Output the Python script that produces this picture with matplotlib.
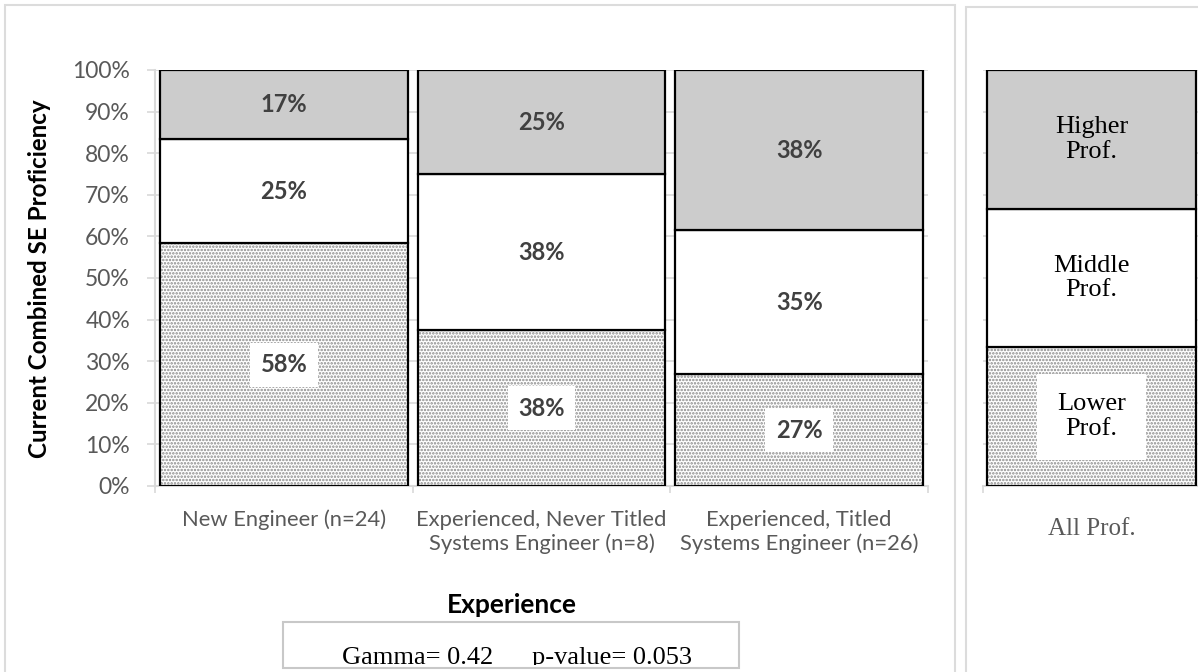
import matplotlib
matplotlib.use("Agg")
import matplotlib.pyplot as plt
import numpy as np
from matplotlib.patches import Rectangle
from matplotlib.transforms import Bbox

# Current combined SE proficiency by experience group (percent of group)
groups = ["New Engineer (n=24)",
          "Experienced, Never Titled\nSystems Engineer (n=8)",
          "Experienced, Titled\nSystems Engineer (n=26)"]
lower = [58.3, 37.5, 26.9]
middle = [25.0, 37.5, 34.6]
higher = [16.7, 25.0, 38.5]

# key bar on the right
key_group = ["All Prof."]
key_shares = [33.3, 33.3, 33.4]
key_names = ["Lower\nProf.", "Middle\nProf.", "Higher\nProf."]

gamma = 0.42
p_value = 0.053

W, H = 1198, 672
SANS = "Lato"
SERIF = "Liberation Serif"
GRID = "#d9d9d9"
DOTS = "#8a8a8a"
plt.rcParams["hatch.linewidth"] = 1.2


def box(x0, y0, x1, y1):
    # pixel box (top-left origin) -> figure fraction rect
    return [x0 / W, 1 - y1 / H, (x1 - x0) / W, (y1 - y0) / H]


def stacked(ax, pos, segs, width):
    bottom = np.zeros(len(pos))
    fills = ["white", "white", "#cccccc"]
    for k, vals in enumerate(segs):
        vals = np.asarray(vals, dtype=float)
        if k == 0:
            # dotted fill first, outline drawn on top
            ax.bar(pos, vals, width, bottom=bottom, color="white",
                   edgecolor=DOTS, linewidth=0, hatch=".....", zorder=2)
            ax.bar(pos, vals, width, bottom=bottom, fill=False,
                   edgecolor="black", linewidth=1.6, zorder=3)
        else:
            ax.bar(pos, vals, width, bottom=bottom, color=fills[k],
                   edgecolor="black", linewidth=1.6, zorder=3)
        bottom += vals


def style_axes(ax, n, pad):
    ax.set_xlim(-0.5, n - 0.5)
    ax.set_ylim(0, 100)
    ax.set_yticks(np.arange(0, 101, 10))
    ax.grid(axis="y", color=GRID, linewidth=1.2, zorder=0)
    for side in ["top", "right"]:
        ax.spines[side].set_visible(False)
    for side in ["left", "bottom"]:
        ax.spines[side].set_color(GRID)
        ax.spines[side].set_linewidth(1.5)
    ax.set_xticks(np.arange(-0.5, n, 1.0), minor=True)
    ax.tick_params(axis="x", which="major", length=0, pad=pad)
    ax.tick_params(axis="x", which="minor", length=5, width=1.2, color=GRID)


fig = plt.figure(figsize=(W / 100, H / 100), dpi=100)

# panel frames
fig.add_artist(Rectangle((5 / W, -0.1), 950 / W, 1 - 5 / H + 0.1,
                         transform=fig.transFigure, fill=False,
                         edgecolor="#dcdcdc", linewidth=1.5))
fig.add_artist(Rectangle((966 / W, -0.1), 0.5, 1 - 7 / H + 0.1,
                         transform=fig.transFigure, fill=False,
                         edgecolor="#dcdcdc", linewidth=1.5))

# main chart
ax = fig.add_axes(box(155, 70, 928, 486))
x = np.arange(len(groups))
stacked(ax, x, [lower, middle, higher], 0.96)
style_axes(ax, len(groups), 17)
ax.set_xticks(x)
ax.set_xticklabels(groups, fontfamily=SANS, fontsize=15.8, color="#595959",
                   linespacing=1.2)
ax.set_yticklabels([f"{v}%" for v in range(0, 101, 10)], fontfamily=SANS,
                   fontsize=16.5, color="#595959")
ax.tick_params(axis="y", length=6, width=1.2, color=GRID, pad=12)

bottom = np.zeros(len(groups))
for k, vals in enumerate([lower, middle, higher]):
    for i, v in enumerate(vals):
        bb = None
        if k == 0:
            bb = dict(boxstyle="square,pad=0.45", facecolor="white",
                      edgecolor="none")
        ax.text(i, bottom[i] + v / 2, f"{v:.0f}%", ha="center", va="center",
                fontfamily=SANS, fontsize=17, fontweight="bold",
                color="#404040", bbox=bb, zorder=5)
    bottom += np.asarray(vals)

fig.text(40 / W, 1 - 279 / H, "Current Combined SE Proficiency",
         rotation=90, ha="center", va="center", fontfamily=SANS,
         fontsize=17.4, fontweight="bold")
fig.text(512 / W, 1 - 613 / H, "Experience", ha="center", va="baseline",
         fontfamily=SANS, fontsize=19, fontweight="bold")

# statistics box, its text is cut by the box edge
fig.add_artist(Rectangle((283 / W, 1 - 668 / H), 456 / W, 46 / H,
                         transform=fig.transFigure, facecolor="white",
                         edgecolor="#c8c8c8", linewidth=1.5))
clip = Bbox.from_extents(283, H - 665, 739, H - 622)
for xp, s in [(342, f"Gamma= {gamma}"), (532, f"p-value= {p_value}")]:
    t = fig.text(xp / W, 1 - 664 / H, s, va="baseline", fontfamily=SERIF,
                 fontsize=19)
    t.set_clip_on(True)
    t.set_clip_box(clip)

# key bar
ax2 = fig.add_axes(box(982.5, 70, 1200.5, 486))
stacked(ax2, [0], [[s] for s in key_shares], 0.96)
style_axes(ax2, 1, 23)
ax2.set_xticks([0])
ax2.set_xticklabels(key_group, fontfamily=SERIF, fontsize=18, color="#595959")
ax2.tick_params(axis="y", length=0, labelleft=False)
ax2.spines["left"].set_visible(False)
base = 0
for k, (s, name) in enumerate(zip(key_shares, key_names)):
    bb = None
    if k == 0:
        bb = dict(boxstyle="square,pad=0.75", facecolor="white",
                  edgecolor="none")
    ax2.text(0, base + s / 2, name, ha="center", va="center",
             fontfamily=SERIF, fontsize=19, linespacing=1.15, bbox=bb,
             zorder=5)
    base += s

fig.savefig("out.png", dpi=100)
